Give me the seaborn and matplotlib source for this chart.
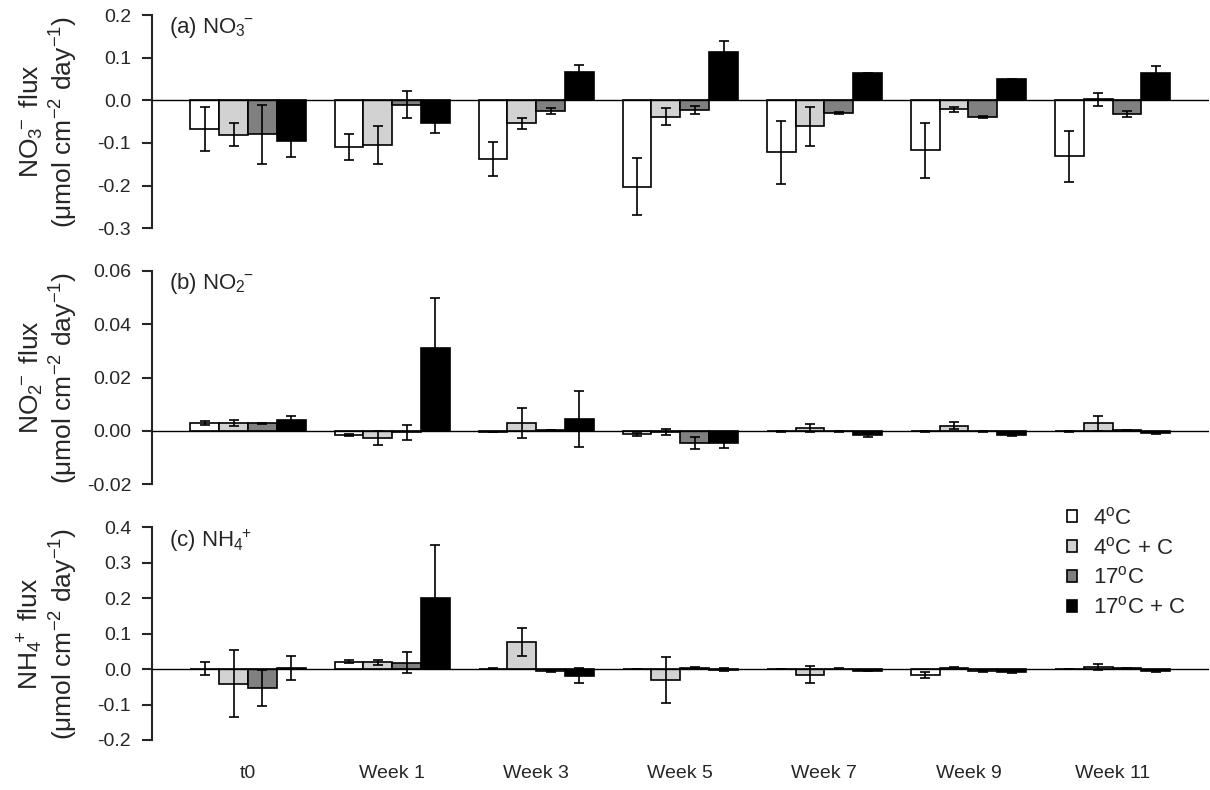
import matplotlib
matplotlib.use("Agg")
import pandas as pd
import matplotlib.pyplot as plt
import seaborn as sns
from matplotlib.patches import Patch
from matplotlib.ticker import FormatStrFormatter

# === data ===
weeks = ["t0", "Week 1", "Week 3", "Week 5", "Week 7", "Week 9", "Week 11"]
treatments = ["4C", "4C+C", "17C", "17C+C"]
treatment_labels = [r"4$^{\rm o}$C", r"4$^{\rm o}$C + C", r"17$^{\rm o}$C", r"17$^{\rm o}$C + C"]
colors = ["white", "#d2d2d2", "#808080", "black"]

# rows follow treatments, columns follow weeks
no3_mean = [[-0.067, -0.110, -0.138, -0.202, -0.122, -0.117, -0.131],
            [-0.081, -0.105, -0.054, -0.039, -0.061, -0.021, 0.002],
            [-0.080, -0.010, -0.025, -0.022, -0.030, -0.039, -0.033],
            [-0.096, -0.052, 0.067, 0.113, 0.063, 0.049, 0.065]]
no3_err = [[0.051, 0.030, 0.040, 0.066, 0.073, 0.065, 0.060],
           [0.027, 0.045, 0.013, 0.020, 0.045, 0.006, 0.015],
           [0.070, 0.031, 0.006, 0.009, 0.002, 0.002, 0.007],
           [0.038, 0.024, 0.016, 0.025, 0.002, 0.002, 0.015]]

no2_mean = [[0.0030, -0.0016, -0.0004, -0.0013, -0.0002, -0.0002, -0.0002],
            [0.0029, -0.0028, 0.0029, -0.0003, 0.0010, 0.0020, 0.0028],
            [0.0028, -0.0006, 0.0003, -0.0045, -0.0002, -0.0002, 0.0002],
            [0.0039, 0.0309, 0.0045, -0.0044, -0.0016, -0.0015, -0.0008]]
no2_err = [[0.0008, 0.0003, 0.0001, 0.0006, 0.0001, 0.0001, 0.0001],
           [0.0012, 0.0026, 0.0057, 0.0011, 0.0015, 0.0012, 0.0028],
           [0.0003, 0.0029, 0.0001, 0.0023, 0.0001, 0.0001, 0.0001],
           [0.0015, 0.0187, 0.0104, 0.0019, 0.0007, 0.0003, 0.0003]]

nh4_mean = [[0.001, 0.021, 0.001, 0.000, 0.000, -0.016, 0.000],
            [-0.041, 0.019, 0.077, -0.032, -0.016, 0.003, 0.005],
            [-0.053, 0.018, -0.006, 0.003, 0.001, -0.005, 0.002],
            [0.003, 0.200, -0.019, -0.002, -0.004, -0.009, -0.005]]
nh4_err = [[0.018, 0.005, 0.001, 0.001, 0.001, 0.008, 0.001],
           [0.095, 0.008, 0.040, 0.065, 0.024, 0.004, 0.008],
           [0.051, 0.030, 0.003, 0.002, 0.001, 0.002, 0.001],
           [0.035, 0.150, 0.021, 0.004, 0.002, 0.003, 0.002]]

panel_titles = [r"(a) NO$_3$$^{\!\!-}$", r"(b) NO$_2$$^{\!\!-}$", r"(c) NH$_4$$^{\!\!+}$"]
ylabels = [r"NO$_3$$^{\!\!-}$ flux" + "\n" + r"(μmol cm$^{-2}$ day$^{-1}$)",
           r"NO$_2$$^{\!\!-}$ flux" + "\n" + r"(μmol cm$^{-2}$ day$^{-1}$)",
           r"NH$_4$$^{\!\!+}$ flux" + "\n" + r"(μmol cm$^{-2}$ day$^{-1}$)"]
yticks = [[-0.3, -0.2, -0.1, 0.0, 0.1, 0.2],
          [-0.02, 0.0, 0.02, 0.04, 0.06],
          [-0.2, -0.1, 0.0, 0.1, 0.2, 0.3, 0.4]]

# === style ===
sns.set_style("ticks")
plt.rcParams['font.family'] = ['Liberation Sans', 'DejaVu Sans']
plt.rcParams['mathtext.fontset'] = 'custom'
plt.rcParams['mathtext.rm'] = 'Liberation Sans'
plt.rcParams['mathtext.it'] = 'Liberation Sans:italic'
plt.rcParams['mathtext.bf'] = 'Liberation Sans:bold'
plt.rcParams['axes.unicode_minus'] = False


def to_long(mean, err):
    rows = []
    for t, m_row, e_row in zip(treatments, mean, err):
        for w, m, e in zip(weeks, m_row, e_row):
            rows.append({"week": w, "treatment": t, "flux": m, "se": e})
    return pd.DataFrame(rows)


fig = plt.figure(figsize=(12.1, 7.9), dpi=100)
boxes = [[0.1256, 0.711, 0.8736, 0.270],
         [0.1256, 0.387, 0.8736, 0.2703],
         [0.1256, 0.0633, 0.8736, 0.2692]]
panels = [(no3_mean, no3_err), (no2_mean, no2_err), (nh4_mean, nh4_err)]
fmts = ["%.1f", "%.2f", "%.1f"]

for i, (mean, err) in enumerate(panels):
    ax = fig.add_axes(boxes[i])
    df = to_long(mean, err)
    sns.barplot(data=df, x="week", y="flux", hue="treatment", order=weeks,
                hue_order=treatments, palette=colors, saturation=1, width=0.8,
                edgecolor="black", linewidth=1.2, errorbar=None, legend=False, ax=ax)
    # error bars on top of each bar
    for cont, t in zip(ax.containers, treatments):
        sub = df[df["treatment"] == t].set_index("week").loc[weeks]
        xs = [p.get_x() + p.get_width() / 2 for p in cont]
        ax.errorbar(xs, sub["flux"], yerr=sub["se"], fmt="none", ecolor="black",
                    elinewidth=1.2, capsize=3.3, capthick=1.2, zorder=5)
    ax.axhline(0, color="black", lw=1.0, zorder=4)

    ax.set_xlim(-0.667, 6.67)
    ax.set_ylim(yticks[i][0], yticks[i][-1])
    ax.set_yticks(yticks[i])
    ax.yaxis.set_major_formatter(FormatStrFormatter(fmts[i]))
    sns.despine(ax=ax, bottom=True)
    ax.spines["left"].set_linewidth(1.5)
    ax.tick_params(axis="y", length=7, width=1.5, labelsize=14, pad=8)
    ax.tick_params(axis="x", length=0, labelsize=14, pad=18)
    ax.set_xlabel("")
    ax.set_ylabel(ylabels[i], fontsize=19, linespacing=1.1)
    ax.yaxis.set_label_coords(-0.068, 0.5)
    if i < 2:
        ax.set_xticklabels([])
    ax.text(0.016, 1.0, panel_titles[i], transform=ax.transAxes,
            ha="left", va="top", fontsize=16)

handles = [Patch(facecolor=c, edgecolor="black", linewidth=1.2) for c in colors]
fig.legend(handles, treatment_labels, loc="upper left", bbox_to_anchor=(0.8818, 0.358),
           frameon=False, fontsize=16, handlelength=0.45, handleheight=0.45,
           handletextpad=0.7, labelspacing=0.35, borderpad=0, borderaxespad=0)

fig.savefig("out.png", dpi=100)
